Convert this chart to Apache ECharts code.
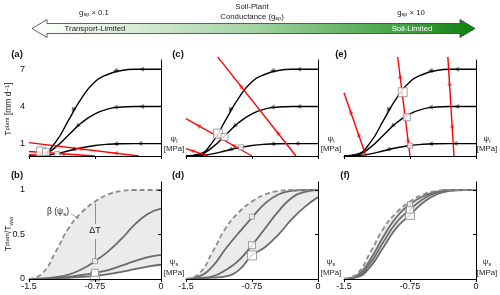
<!DOCTYPE html>
<html><head><meta charset="utf-8">
<script src="https://cdn.jsdelivr.net/npm/echarts@6/dist/echarts.min.js"></script>
<style>html,body{margin:0;padding:0;background:#fff}#c{width:500px;height:295px}</style>
</head><body><div id="c"></div>
<script>
// ---------- data ----------
const psiGrid = [-1.5,-1.35,-1.2,-1.05,-0.9,-0.75,-0.6,-0.45,-0.3,-0.15,0];
const xTickVals = [-1.5,-0.75,0];
const xTickLabels = ['-1.5','-0.75','0'];
const topYTickVals = [1,4,7];
const topYTickLabels = ['1','4','7'];
const botYTickVals = [0,0.5,1];
const botYTickLabels = ['0','0.5','1'];

// demand curves T [mm/d] vs psi_l (Tww = 7, 4, 1)
const demand7 = [0,0.15,1.1,2.9,4.7,6.0,6.6,6.9,7.0,7.0,7.0];
const demand4 = [0,0.1,0.7,1.7,2.7,3.4,3.8,3.95,4.0,4.0,4.0];
const demand1 = [0,0.03,0.17,0.42,0.67,0.85,0.95,0.99,1.0,1.0,1.0];

// supply lines (psi_s = -0.25, -0.75, -1.25) : two end points [psi_l, T]
const supplyA = [[[-1.5,1.08],[-0.25,0]], [[-1.5,0.36],[-0.75,0]], [[-1.5,0.1],[-1.25,0]]];
const supplyC = [[[-1.14,8.0],[-0.25,0]], [[-1.5,3.02],[-0.75,0]], [[-1.5,0.6],[-1.25,0]]];
const supplyE = [[[-0.32,8.0],[-0.25,0]], [[-0.89,8.0],[-0.75,0]], [[-1.5,5.1],[-1.25,0]]];

// arrow heads on demand curves: [from, to]
const arrowsBlack = [
  [[-0.98,3.95],[-1.0,3.7]], [[-0.48,6.93],[-0.52,6.89]], [[-0.18,7.0],[-0.22,7.0]],
  [[-0.93,2.55],[-0.95,2.42]], [[-0.48,3.96],[-0.52,3.94]], [[-0.18,4.0],[-0.22,4.0]],
  [[-0.98,0.56],[-1.0,0.53]], [[-0.48,0.985],[-0.52,0.98]], [[-0.2,1.0],[-0.24,1.0]]
];
// arrow heads on supply lines: [from, to]
const arrowsRedA = [[[-0.88,0.544],[-0.92,0.579]], [[-0.48,0.199],[-0.52,0.233]], [[-1.08,0.158],[-1.12,0.178]]];
const arrowsRedC = [[[-0.86,5.48],[-0.88,5.66]], [[-0.44,1.71],[-0.46,1.89]], [[-1.34,2.38],[-1.36,2.46]],
  [[-0.94,0.77],[-0.96,0.85]], [[-1.41,0.38],[-1.43,0.43]]];
const arrowsRedE = [[[-1.415,3.37],[-1.425,3.57]], [[-1.325,1.53],[-1.335,1.73]], [[-0.857,6.11],[-0.863,6.45]],
  [[-0.767,0.97],[-0.773,1.31]], [[-0.2985,5.53],[-0.3015,5.87]], [[-0.2685,2.11],[-0.2715,2.45]]];

// equilibrium points (Tww = 7, 4, 1)
const eqTopA = [[-1.364,0.36],[-1.307,0.31],[-1.18,0.15]];
const eqTopC = [[-1.136,1.81],[-1.0625,1.54],[-0.875,0.70]];
const eqTopE = [[-0.833,5.15],[-0.786,3.13],[-0.75,0.84]];
const eqSizes = [9,7,5];
const psiS = -0.75;
const eqBotB = [0.03,0.07,0.2];
const eqBotD = [0.265,0.38,0.70];
const eqBotF = [0.72,0.78,0.84];

// bottom panels: beta(psi_s) and T/Tww
const beta = [0,0.06,0.30,0.57,0.75,0.87,0.95,0.99,1.0,1.0,1.0];
const relB1 = [0,0.005,0.02,0.05,0.11,0.20,0.31,0.45,0.61,0.73,0.79];
const relB4 = [0,0.003,0.01,0.025,0.045,0.07,0.10,0.15,0.20,0.245,0.27];
const relB7 = [0,0.002,0.006,0.013,0.023,0.035,0.055,0.08,0.11,0.14,0.16];
const relD1 = [0,0.03,0.14,0.34,0.52,0.69,0.85,0.95,0.99,1.0,1.0];
const relD4 = [0,0.01,0.03,0.10,0.21,0.38,0.57,0.76,0.91,0.98,1.0];
const relD7 = [0,0.005,0.015,0.03,0.10,0.265,0.36,0.50,0.67,0.81,0.92];
const relF1 = [0,0.04,0.22,0.48,0.70,0.84,0.93,0.98,1.0,1.0,1.0];
const relF4 = [0,0.03,0.18,0.42,0.64,0.78,0.90,0.97,0.995,1.0,1.0];
const relF7 = [0,0.02,0.14,0.36,0.58,0.72,0.86,0.95,0.99,1.0,1.0];

// Delta T annotation segments and beta label leader
const deltaTSegs = [[[-0.75,0.85],[-0.75,0.62]], [[-0.75,0.45],[-0.75,0.22]]];
const betaLeader = [[-1.02,0.73],[-0.93,0.68]];

// ---------- chart ----------
const FONT = 'Liberation Sans';
const chart = echarts.init(document.getElementById('c'));
const gridPos = [
  {left:29, top:60, width:132, height:96},
  {left:186, top:60, width:132, height:96},
  {left:344, top:60, width:132, height:96},
  {left:29, top:182, width:132, height:97},
  {left:186, top:182, width:132, height:97},
  {left:344, top:182, width:132, height:97}
];
const axLine = {show:true, lineStyle:{color:'#000', width:1}};
const xAxes = gridPos.map((g,i)=>({
  type:'value', gridIndex:i, min:-1.5, max:0, z:10,
  axisLine:axLine, splitLine:{show:false},
  axisTick:{show:true, length:3, customValues:xTickVals, lineStyle:{color:'#000'}},
  axisLabel:{show:i>=3, customValues:xTickVals, fontFamily:FONT, fontSize:9, color:'#111', margin:3,
    formatter:v=>xTickLabels[xTickVals.findIndex(t=>Math.abs(t-v)<1e-6)]}
}));
const yAxes = gridPos.map((g,i)=>{
  const top = i<3;
  const vals = top?topYTickVals:botYTickVals;
  const labs = top?topYTickLabels:botYTickLabels;
  return {
    type:'value', gridIndex:i, min:0, max: top?7.75:1.09, z:10,
    axisLine:axLine, splitLine:{show:false},
    axisTick:{show:true, length:3, customValues:vals, lineStyle:{color:'#000'}},
    axisLabel:{show:i===0||i===3, customValues:vals, fontFamily:FONT, fontSize:9, color:'#111', margin:4,
      formatter:v=>labs[vals.findIndex(t=>Math.abs(t-v)<1e-6)]}
  };
});
const toXY = arr => psiGrid.map((p,i)=>[p,arr[i]]);
const base = gi => ({xAxisIndex:gi, yAxisIndex:gi, animation:false, silent:true});
const SM = 0.5;

function arrowSeries(gi, segs, color){
  return Object.assign(base(gi),{
    type:'lines', coordinateSystem:'cartesian2d', data:segs.map(c=>({coords:c})),
    symbol:['none','triangle'], symbolSize:5, lineStyle:{color:color, width:1}, z:4});
}
function topSeries(gi, supply, eq, redArrows){
  const s = [];
  [demand7,demand4,demand1].forEach(arr=>s.push(Object.assign(base(gi),{
    type:'line', data:toXY(arr), smooth:SM, symbol:'none',
    lineStyle:{color:'#000', width:1.4}, z:2})));
  supply.forEach(seg=>s.push(Object.assign(base(gi),{
    type:'line', data:seg, symbol:'none', clip:false,
    lineStyle:{color:'#ff0000', width:1.4}, z:3})));
  s.push(arrowSeries(gi, arrowsBlack, '#000'));
  s.push(arrowSeries(gi, redArrows, '#ff0000'));
  s.push(Object.assign(base(gi),{
    type:'scatter', symbol:'rect', data:eq.map((p,i)=>({value:p, symbolSize:eqSizes[i]})),
    itemStyle:{color:'#fff', borderColor:'#8a8a8a', borderWidth:1}, z:5}));
  return s;
}
function botSeries(gi, c1, c4, c7, eqVals){
  const s = [];
  s.push(Object.assign(base(gi),{type:'line', data:toXY(beta), smooth:SM, symbol:'none',
    lineStyle:{width:0, opacity:0}, areaStyle:{color:'#ebebeb', opacity:1}, z:1}));
  s.push(Object.assign(base(gi),{type:'line', data:toXY(c7), smooth:SM, symbol:'none',
    lineStyle:{width:0, opacity:0}, areaStyle:{color:'#ffffff', opacity:1}, z:1}));
  [c1,c4,c7].forEach(arr=>s.push(Object.assign(base(gi),{type:'line', data:toXY(arr), smooth:SM,
    symbol:'none', lineStyle:{color:'#6b6b6b', width:1.8}, z:2})));
  s.push(Object.assign(base(gi),{type:'line', data:toXY(beta), smooth:SM, symbol:'none',
    lineStyle:{color:'#8c8c8c', width:1.8, type:[5,3]}, z:3}));
  s.push(Object.assign(base(gi),{
    type:'scatter', symbol:'rect', data:eqVals.map((v,i)=>({value:[psiS,v], symbolSize:eqSizes[i]})),
    itemStyle:{color:'#fff', borderColor:'#8a8a8a', borderWidth:1}, z:5}));
  return s;
}
let series = [].concat(
  topSeries(0, supplyA, eqTopA, arrowsRedA), topSeries(1, supplyC, eqTopC, arrowsRedC), topSeries(2, supplyE, eqTopE, arrowsRedE),
  botSeries(3, relB1, relB4, relB7, eqBotB), botSeries(4, relD1, relD4, relD7, eqBotD), botSeries(5, relF1, relF4, relF7, eqBotF)
);
series.push(Object.assign(base(3),{type:'lines', coordinateSystem:'cartesian2d',
  data:deltaTSegs.map(c=>({coords:c})), lineStyle:{color:'#333', width:1}, z:4}));
series.push(Object.assign(base(3),{type:'lines', coordinateSystem:'cartesian2d',
  data:[{coords:betaLeader}], lineStyle:{color:'#555', width:1}, z:4}));

const FS = 8.5, FSS = 6;
const sub = {fontFamily:FONT, fontSize:FSS, fill:'#222', verticalAlign:'bottom', padding:[4,0,0,0]};
const sup = {fontFamily:FONT, fontSize:FSS, fill:'#222', verticalAlign:'top', padding:[0,0,4,0]};
const norm = {fontFamily:FONT, fontSize:FS, fill:'#222'};
const normS = {fontFamily:FONT, fontSize:7.8, fill:'#222'};
const subS = {fontFamily:FONT, fontSize:5.5, fill:'#222', verticalAlign:'bottom', padding:[4,0,0,0]};
function txt(x,y,text,opts){
  return Object.assign({type:'text', x:x, y:y, silent:true, z:20,
    style:Object.assign({text:text, fontFamily:FONT, fontSize:FS, fill:'#222', align:'center', verticalAlign:'middle',
      rich:{n:norm, s:sub, p:sup, m:normS, q:subS}}, opts||{})});
}
const bold = {fontWeight:'bold', fontSize:9.5, fill:'#111'};
const small = {fontSize:7.8};
const graphics = [
  {type:'polygon', silent:true, z:1,
   shape:{points:[[32,28.5],[47,19.5],[47,23.5],[460,23.5],[460,19.5],[475,28.5],[460,37.5],[460,33.5],[47,33.5],[47,37.5]]},
   style:{fill:new echarts.graphic.LinearGradient(0,0,1,0,[
     {offset:0,color:'#ffffff'},{offset:0.07,color:'#f4faf4'},{offset:0.2,color:'#dcefdc'},
     {offset:0.5,color:'#a3d4a3'},{offset:0.85,color:'#3e9f3e'},{offset:1,color:'#0c800c'}]),
     stroke:'#3a3a3a', lineWidth:0.8}},
  txt(95,28.5,'Transport-Limited',{fill:'#1a1a1a', fontSize:7.8}),
  txt(412,28.5,'Soil-Limited',{fill:'#ffffff', fontSize:7.8}),
  txt(94,12.5,'{m|g}{q|sp}{m| × 0.1}'),
  txt(411,12.5,'{m|g}{q|sp}{m| × 10}'),
  txt(252,6.5,'Soil-Plant',small),
  txt(252,16.5,'{m|Conductance (g}{q|sp}{m|)}'),
  txt(17,54,'(a)',bold), txt(178,54,'(c)',bold), txt(341,54,'(e)',bold),
  txt(17,175,'(b)',bold), txt(178,175,'(d)',bold), txt(345,175,'(f)',bold),
  txt(174,139,'{m|ψ}{q|l}'), txt(174,149,'[MPa]',small),
  txt(331,139,'{m|ψ}{q|l}'), txt(331,149,'[MPa]',small),
  txt(487,139,'{m|ψ}{q|l}'), txt(487,149,'[MPa]',small),
  txt(174,262,'{m|ψ}{q|s}'), txt(174,273,'[MPa]',small),
  txt(331,262,'{m|ψ}{q|s}'), txt(331,273,'[MPa]',small),
  txt(487,262,'{m|ψ}{q|s}'), txt(487,273,'[MPa]',small),
  Object.assign(txt(9,109,'{n|T}{p|plant}{n| [mm d}{p|−1}{n|]}'),{rotation:Math.PI/2}),
  Object.assign(txt(9,234,'{n|T}{p|plant}{n|/T}{s|ww}'),{rotation:Math.PI/2}),
  txt(58,212,'{n|β (ψ}{s|s}{n|)}'),
  txt(95,231,'ΔT',{fontSize:9})
];

chart.setOption({
  animation:false,
  grid:gridPos,
  xAxis:xAxes,
  yAxis:yAxes,
  series:series,
  graphic:graphics
});
</script></body></html>
